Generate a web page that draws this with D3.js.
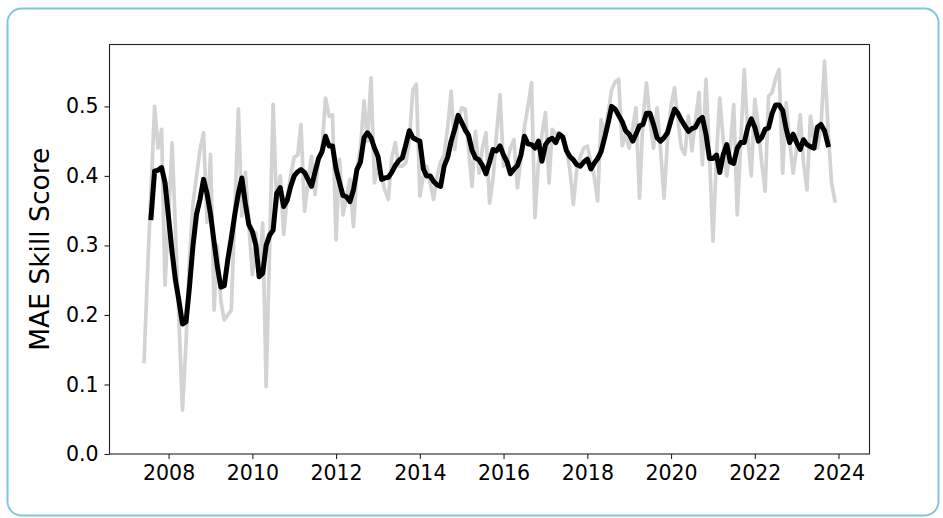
<!DOCTYPE html>
<html>
<head>
<meta charset="utf-8">
<script src="https://cdn.jsdelivr.net/npm/d3@7"></script>
<style>
  html, body { margin: 0; padding: 0; background: #fff; }
  svg { display: block; }
  text { font-family: "DejaVu Sans", sans-serif; }
</style>
</head>
<body>
<svg id="chart" width="943" height="518"></svg>
<script>
// ---- data ----
// monthly values starting June 2007
const startYear = 2007, startMonth = 5; // June (0-based)
const monthlyScore = [
  0.133,0.26,0.38,0.50,0.44,0.467,0.243,0.34,0.448,0.32,
  0.19,0.063,0.16,0.28,0.36,0.40,0.438,0.462,0.333,0.431,
  0.207,0.30,0.22,0.193,0.20,0.207,0.35,0.496,0.342,0.405,
  0.33,0.258,0.318,0.26,0.332,0.097,0.30,0.503,0.356,0.40,
  0.316,0.37,0.40,0.427,0.43,0.474,0.349,0.39,0.428,0.373,
  0.424,0.44,0.512,0.486,0.488,0.308,0.424,0.344,0.37,0.395,
  0.327,0.409,0.44,0.508,0.45,0.541,0.39,0.416,0.40,0.38,
  0.366,0.426,0.448,0.414,0.414,0.419,0.45,0.524,0.532,0.371,
  0.40,0.414,0.39,0.366,0.40,0.42,0.43,0.47,0.522,0.438,
  0.48,0.498,0.496,0.44,0.385,0.464,0.404,0.44,0.462,0.361,
  0.395,0.46,0.517,0.414,0.42,0.44,0.452,0.383,0.424,0.47,
  0.50,0.534,0.34,0.42,0.46,0.491,0.39,0.467,0.46,0.462,
  0.45,0.44,0.41,0.359,0.41,0.428,0.44,0.443,0.42,0.40,
  0.364,0.481,0.46,0.49,0.524,0.535,0.539,0.443,0.46,0.44,
  0.47,0.498,0.368,0.48,0.534,0.48,0.44,0.498,0.44,0.368,
  0.45,0.50,0.527,0.48,0.44,0.431,0.486,0.436,0.48,0.52,
  0.416,0.539,0.43,0.306,0.43,0.512,0.45,0.40,0.44,0.503,
  0.344,0.45,0.553,0.455,0.40,0.51,0.47,0.42,0.378,0.515,
  0.52,0.54,0.553,0.404,0.505,0.45,0.404,0.44,0.488,0.42,
  0.38,0.486,0.45,0.44,0.47,0.565,0.47,0.39,0.364
];
// smoothed series, starts at the 3rd month (August 2007)
const smoothOffset = 2;
const smoothScore = [
  0.34,0.407,0.408,0.412,0.39,0.34,0.29,0.25,0.22,0.187,
  0.19,0.24,0.30,0.345,0.366,0.395,0.375,0.345,0.305,0.27,
  0.24,0.242,0.28,0.31,0.345,0.375,0.397,0.36,0.33,0.32,
  0.30,0.255,0.26,0.30,0.315,0.322,0.375,0.383,0.356,0.365,
  0.385,0.40,0.406,0.409,0.405,0.395,0.385,0.405,0.425,0.435,
  0.457,0.443,0.443,0.41,0.39,0.372,0.37,0.363,0.38,0.409,
  0.42,0.455,0.462,0.455,0.44,0.428,0.395,0.397,0.398,0.405,
  0.415,0.422,0.426,0.445,0.465,0.455,0.452,0.45,0.41,0.40,
  0.40,0.392,0.387,0.385,0.414,0.427,0.45,0.467,0.487,0.477,
  0.466,0.459,0.437,0.426,0.423,0.415,0.403,0.42,0.438,0.436,
  0.443,0.43,0.42,0.403,0.41,0.415,0.43,0.457,0.446,0.445,
  0.44,0.45,0.421,0.445,0.452,0.454,0.448,0.46,0.456,0.437,
  0.428,0.423,0.416,0.414,0.42,0.424,0.41,0.418,0.425,0.435,
  0.455,0.476,0.50,0.496,0.487,0.478,0.465,0.46,0.45,0.46,
  0.472,0.474,0.49,0.49,0.474,0.455,0.45,0.455,0.462,0.48,
  0.496,0.49,0.48,0.472,0.464,0.468,0.47,0.48,0.484,0.46,
  0.425,0.425,0.43,0.405,0.431,0.445,0.42,0.418,0.44,0.448,
  0.448,0.47,0.482,0.47,0.45,0.455,0.467,0.469,0.49,0.502,
  0.502,0.494,0.468,0.448,0.46,0.448,0.438,0.452,0.445,0.442,
  0.44,0.47,0.474,0.465,0.445
];
const yTicks = [0.0, 0.1, 0.2, 0.3, 0.4, 0.5];
const yLabel = "MAE Skill Score";

// ---- layout ----
const W = 943, H = 518;
const plot = { left: 109.5, right: 869.5, top: 44.5, bottom: 454 };

const svg = d3.select("#chart");

// outer rounded frame
svg.append("rect")
  .attr("x", 7.5).attr("y", 8.5)
  .attr("width", 931).attr("height", 507)
  .attr("rx", 14).attr("ry", 14)
  .attr("fill", "#fff")
  .attr("stroke", "#7ec8df")
  .attr("stroke-width", 2);

const base = Date.UTC(startYear, startMonth, 1);
const dateAt = i => d3.utcMonth.offset(new Date(base), i);
const raw = monthlyScore.map((v, i) => ({ date: dateAt(i), v }));
const smooth = smoothScore.map((v, i) => ({ date: dateAt(i + smoothOffset), v }));

const ext = d3.extent(raw, d => d.date);
const span = ext[1] - ext[0];
const x = d3.scaleUtc()
  .domain([new Date(+ext[0] - span * 0.05), new Date(+ext[1] + span * 0.05)])
  .range([plot.left, plot.right]);

const y = d3.scaleLinear().domain([0, 0.589]).range([plot.bottom, plot.top]);

const line = d3.line().x(d => x(d.date)).y(d => y(d.v)).curve(d3.curveLinear);

const g = svg.append("g");

g.append("path").datum(raw)
  .attr("d", line)
  .attr("fill", "none")
  .attr("stroke", "#d3d3d3")
  .attr("stroke-width", 3.7)
  .attr("stroke-linejoin", "round")
  .attr("stroke-linecap", "square");

g.append("path").datum(smooth)
  .attr("d", line)
  .attr("fill", "none")
  .attr("stroke", "#000")
  .attr("stroke-width", 5)
  .attr("stroke-linejoin", "round")
  .attr("stroke-linecap", "square");

// spines
svg.append("rect")
  .attr("x", plot.left).attr("y", plot.top)
  .attr("width", plot.right - plot.left).attr("height", plot.bottom - plot.top)
  .attr("fill", "none").attr("stroke", "#222").attr("stroke-width", 1.1);

// axes
const xAxis = d3.axisBottom(x)
  .ticks(d3.utcYear.every(2))
  .tickFormat(d3.utcFormat("%Y"))
  .tickSize(5).tickPadding(6);
const yAxis = d3.axisLeft(y)
  .tickValues(yTicks)
  .tickFormat(d3.format(".1f"))
  .tickSize(5).tickPadding(6);

const gx = svg.append("g").attr("transform", `translate(0,${plot.bottom})`).call(xAxis);
const gy = svg.append("g").attr("transform", `translate(${plot.left},0)`).call(yAxis);
[gx, gy].forEach(a => {
  a.select(".domain").remove();
  a.selectAll(".tick line").attr("stroke", "#222").attr("stroke-width", 1.1);
  a.selectAll(".tick text").attr("fill", "#000").style("font-size", "20.5px")
    .style("font-family", '"DejaVu Sans", sans-serif');
});

svg.append("text")
  .attr("transform", `translate(49,${(plot.top + plot.bottom) / 2}) rotate(-90)`)
  .attr("text-anchor", "middle")
  .style("font-size", "26.5px")
  .attr("fill", "#000")
  .text(yLabel);
</script>
</body>
</html>
